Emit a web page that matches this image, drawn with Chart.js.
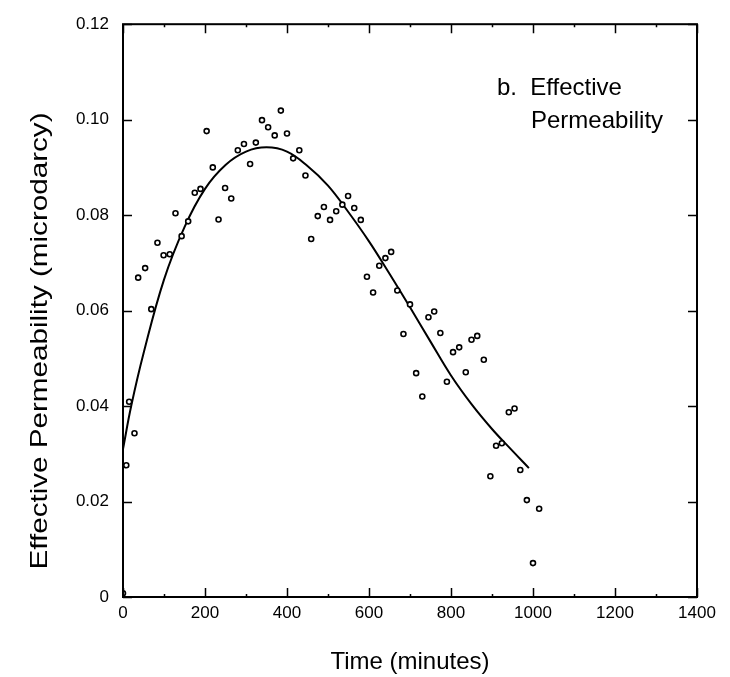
<!DOCTYPE html>
<html>
<head>
<meta charset="utf-8">
<script src="https://cdn.jsdelivr.net/npm/chart.js@4/dist/chart.umd.min.js"></script>
<style>
  html, body { margin: 0; padding: 0; background: #fff; }
  #wrap { width: 730px; height: 677px; }
</style>
</head>
<body>
<div id="wrap"><canvas id="permChart" width="730" height="677"></canvas></div>
<script>
// observed points (time in minutes, permeability in microdarcy)
const obsTime = [0, 8, 15, 28, 37, 54, 69, 84, 99, 114, 128, 143, 159, 175, 189, 204, 219, 233, 249, 264,
    280, 295, 310, 324, 339, 354, 370, 385, 400, 415, 430, 445, 459, 475, 490, 505, 520, 535, 549, 564,
    580, 595, 610, 625, 640, 654, 669, 684, 700, 715, 730, 745, 759, 774, 790, 805, 820, 836, 850, 864,
    880, 896, 910, 924, 941, 955, 969, 985, 1000, 1015];
const obsPerm = [0.0008, 0.0276, 0.0409, 0.0343, 0.0669, 0.0689, 0.0603, 0.0742, 0.0716, 0.0718, 0.0804, 0.0756, 0.0787, 0.0847, 0.0855, 0.0976, 0.0900, 0.0791, 0.0857, 0.0835,
    0.0936, 0.0949, 0.0907, 0.0952, 0.0999, 0.0984, 0.0967, 0.1019, 0.0971, 0.0919, 0.0936, 0.0883, 0.0750, 0.0798, 0.0817, 0.0790, 0.0808, 0.0822, 0.0840, 0.0815,
    0.0790, 0.0671, 0.0638, 0.0694, 0.0710, 0.0723, 0.0642, 0.0551, 0.0613, 0.0469, 0.0420, 0.0586, 0.0598, 0.0553, 0.0451, 0.0513, 0.0523, 0.0471, 0.0539, 0.0547,
    0.0497, 0.0253, 0.0317, 0.0322, 0.0387, 0.0395, 0.0266, 0.0203, 0.0071, 0.0185];

// fitted curve
const fitTime = [0, 20, 50, 100, 150, 200, 250, 300, 350, 400, 450, 500, 550, 600, 650, 700, 750, 800, 850, 900, 950, 990];
const fitPerm = [0.031, 0.040, 0.051, 0.0665, 0.0775, 0.0855, 0.0905, 0.0933, 0.0942, 0.0933, 0.0903, 0.0862, 0.0806, 0.0745,
    0.0677, 0.0607, 0.0535, 0.0464, 0.0404, 0.0352, 0.0306, 0.0270];

const xTicks = [0, 200, 400, 600, 800, 1000, 1200, 1400];
const yTicks = [0, 0.02, 0.04, 0.06, 0.08, 0.10, 0.12];
const noteLines = ["b.  Effective", "Permeability"];
const yTitle = "Effective Permeability (microdarcy)";

const FONT = "'Liberation Sans', Arial, Helvetica, sans-serif";

// frame, inward ticks, y title (stretched like the original) and the "b." note
const framePlugin = {
    id: 'frame',
    afterDraw(chart) {
        const ctx = chart.ctx;
        const a = chart.chartArea;
        const xs = chart.scales.x, ys = chart.scales.y;
        ctx.save();
        ctx.strokeStyle = '#000';
        ctx.lineWidth = 2;
        ctx.strokeRect(a.left, a.top, a.right - a.left, a.bottom - a.top);

        ctx.lineWidth = 1.5;
        ctx.beginPath();
        xTicks.forEach(v => {
            const px = Math.round(xs.getPixelForValue(v)) + 0.5;
            ctx.moveTo(px, a.bottom); ctx.lineTo(px, a.bottom - 9);
            ctx.moveTo(px, a.top); ctx.lineTo(px, a.top + 9);
        });
        for (let v = 100; v < 1400; v += 200) {
            const px = Math.round(xs.getPixelForValue(v)) + 0.5;
            ctx.moveTo(px, a.bottom); ctx.lineTo(px, a.bottom - 3);
            ctx.moveTo(px, a.top); ctx.lineTo(px, a.top + 3);
        }
        yTicks.forEach(v => {
            const py = Math.round(ys.getPixelForValue(v)) + 0.5;
            ctx.moveTo(a.left, py); ctx.lineTo(a.left + 9, py);
            ctx.moveTo(a.right, py); ctx.lineTo(a.right - 9, py);
        });
        ctx.stroke();

        ctx.fillStyle = '#000';
        ctx.font = '24px ' + FONT;
        ctx.textBaseline = 'alphabetic';
        ctx.textAlign = 'left';
        ctx.fillText(noteLines[0], 497, 95);
        ctx.fillText(noteLines[1], 531, 128);

        // y axis title
        const w = ctx.measureText(yTitle).width;
        ctx.translate(40, 341);
        ctx.rotate(-Math.PI / 2);
        ctx.scale(457 / w, 1);
        ctx.textAlign = 'center';
        ctx.textBaseline = 'middle';
        ctx.fillText(yTitle, 0, 0);
        ctx.restore();
    }
};

const ctx = document.getElementById("permChart").getContext("2d");

new Chart(ctx, {
    type: 'scatter',
    data: {
        datasets: [
            {
                label: 'Observed',
                data: obsTime.map((t, i) => ({ x: t, y: obsPerm[i] })),
                pointStyle: 'circle',
                pointRadius: 2.5,
                borderColor: '#000',
                backgroundColor: '#fff',
                borderWidth: 1.6,
                showLine: false
            },
            {
                label: 'Fit',
                data: fitTime.map((t, i) => ({ x: t, y: fitPerm[i] })),
                showLine: true,
                borderColor: '#000',
                borderWidth: 2,
                pointRadius: 0,
                tension: 0.4,
                fill: false
            }
        ]
    },
    options: {
        responsive: false,
        animation: false,
        layout: { padding: { left: 0, right: 33, top: 21, bottom: 0 } },
        plugins: {
            legend: { display: false },
            tooltip: { enabled: false }
        },
        scales: {
            x: {
                type: 'linear',
                min: 0, max: 1400,
                afterFit: s => { s.height = 80; },
                afterBuildTicks: s => { s.ticks = xTicks.map(v => ({ value: v })); },
                grid: { display: false, drawTicks: false },
                border: { display: false },
                ticks: {
                    color: '#000',
                    font: { family: FONT, size: 17 },
                    padding: 6,
                    maxRotation: 0,
                    callback: v => String(v)
                },
                title: {
                    display: true,
                    text: 'Time (minutes)',
                    color: '#000',
                    font: { family: FONT, size: 24 },
                    padding: { top: 0, bottom: 0 }
                }
            },
            y: {
                type: 'linear',
                min: 0, max: 0.12,
                afterFit: s => { s.width = 123; },
                afterBuildTicks: s => { s.ticks = yTicks.map(v => ({ value: v })); },
                grid: { display: false, drawTicks: false },
                border: { display: false },
                ticks: {
                    color: '#000',
                    font: { family: FONT, size: 17 },
                    padding: 14,
                    callback: v => v === 0 ? '0' : v.toFixed(2)
                },
                title: { display: false }
            }
        }
    },
    plugins: [framePlugin]
});
</script>
</body>
</html>
